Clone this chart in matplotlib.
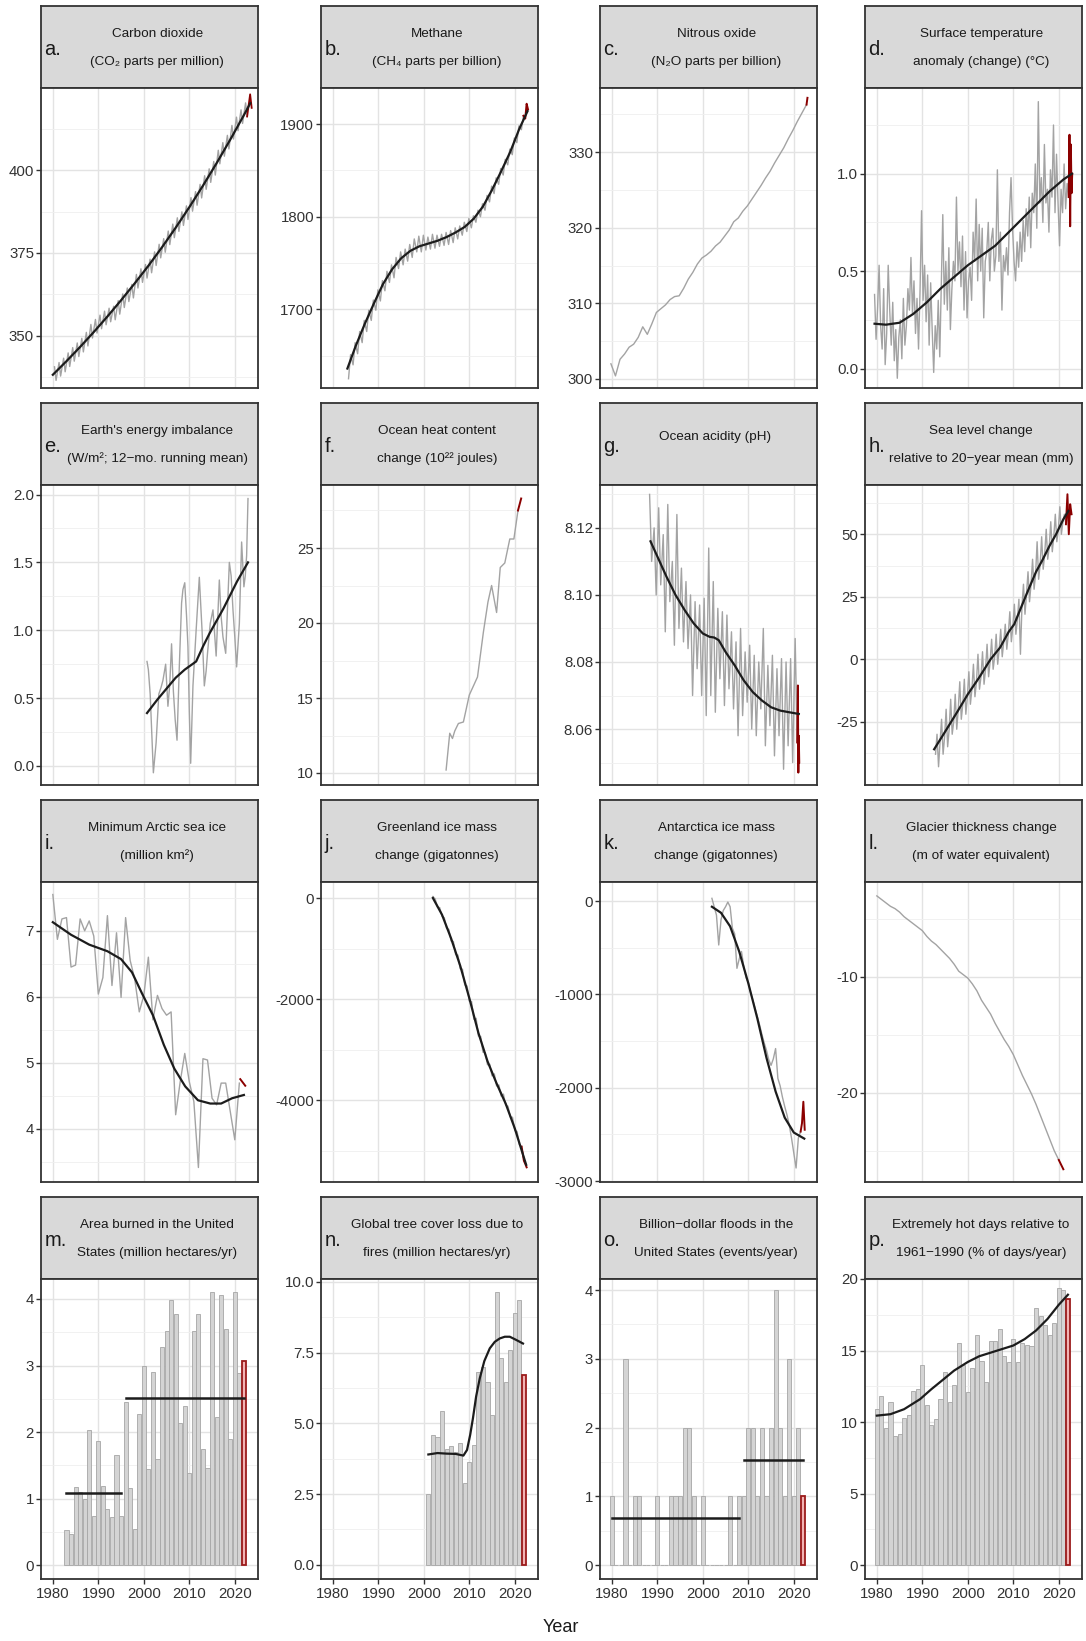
import numpy as np
import matplotlib
matplotlib.use("Agg")
import matplotlib.pyplot as plt

plt.rcParams['font.family'] = ['Liberation Sans', 'DejaVu Sans']
plt.rcParams['axes.unicode_minus'] = False

# ---------------- data ----------------
# a. CO2 (ppm): May peak / September trough per year, plus smooth fit
co2_years = list(range(1980, 2024))
co2_may = [340.6, 341.9, 343.2, 344.8, 346.4, 347.8, 349.2, 351.0, 353.4, 354.9, 356.2, 357.4, 358.3, 358.9,
           360.6, 362.6, 364.4, 365.5, 368.5, 370.2, 371.5, 373.1, 375.3, 377.6, 379.3, 381.6, 383.7, 385.6,
           387.4, 389.2, 391.7, 393.5, 395.7, 398.3, 400.4, 402.6, 406.0, 408.3, 410.5, 413.5, 416.0, 418.2,
           420.3, 422.9]
co2_sep = [336.5, 337.8, 339.1, 340.7, 342.3, 343.7, 345.1, 346.9, 349.3, 350.8, 352.1, 353.3, 354.2, 354.8,
           356.5, 358.5, 360.3, 361.4, 364.4, 366.1, 367.4, 369.0, 371.2, 373.5, 375.2, 377.5, 379.6, 381.5,
           383.3, 385.1, 387.6, 389.4, 391.6, 394.2, 396.3, 398.5, 401.9, 404.2, 406.4, 409.4, 411.9, 414.1,
           416.2, 418.8]
co2_fit_x = [1980.0, 1983, 1986, 1989, 1992, 1995, 1998, 2001, 2004, 2007, 2010, 2013, 2016, 2019, 2022, 2023.4]
co2_fit_y = [338.2, 342.3, 346.6, 351.1, 355.8, 360.7, 365.8, 371.1, 376.7, 382.6, 388.8, 395.3, 402.1, 409.2,
             416.6, 420.2]

# b. Methane (ppb)
ch4_years = list(range(1983, 2022))
ch4_lo = [1625, 1640, 1652, 1664, 1676, 1688, 1699, 1709, 1720, 1729, 1734, 1744, 1748, 1752, 1756, 1762,
          1762, 1764, 1765, 1766, 1768, 1769, 1770, 1772, 1776, 1780, 1784, 1788, 1794, 1800, 1807, 1816,
          1825, 1835, 1845, 1856, 1867, 1880, 1894]
ch4_hi = [1651, 1664, 1676, 1688, 1699, 1710, 1721, 1731, 1741, 1748, 1756, 1762, 1765, 1770, 1776, 1779,
          1780, 1778, 1781, 1780, 1781, 1783, 1785, 1788, 1790, 1794, 1798, 1801, 1807, 1814, 1823, 1833,
          1842, 1852, 1862, 1873, 1885, 1898, 1909]
ch4_red_x = [2021.9, 2022.3, 2022.6, 2022.9]
ch4_red_y = [1909, 1906, 1922, 1916]
ch4_fit_x = [1983.2, 1985, 1987, 1989, 1991, 1993, 1995, 1997, 1999, 2001, 2003, 2005, 2007, 2009, 2011,
             2013, 2015, 2017, 2019, 2021, 2022.8]
ch4_fit_y = [1636, 1660, 1684, 1706, 1727, 1743, 1755, 1763, 1768, 1771, 1774, 1778, 1783, 1789, 1798,
             1811, 1829, 1849, 1870, 1895, 1914]

# c. Nitrous oxide (ppb)
n2o_years = list(range(1979, 2023))
n2o = [302.0, 300.4, 302.6, 303.3, 304.2, 304.6, 305.5, 306.9, 305.9, 307.3, 308.8, 309.3, 309.8, 310.5,
       310.9, 311.0, 312.0, 313.2, 314.1, 315.2, 316.0, 316.4, 316.9, 317.6, 318.1, 318.9, 319.7, 320.8,
       321.3, 322.2, 322.9, 323.8, 324.7, 325.6, 326.6, 327.5, 328.6, 329.6, 330.6, 331.8, 332.9, 334.1,
       335.2, 336.3]
n2o_red_x = [2022.8, 2023.0]
n2o_red_y = [336.3, 337.2]

# d. Surface temperature anomaly (C), three readings per year from 1979.5
temp = [0.38, 0.15, 0.31, 0.53, 0.22, 0.10, 0.41, 0.02, 0.18, 0.53, 0.30, 0.12, 0.34, 0.04, 0.20,
        -0.05, 0.16, 0.25, 0.05, 0.36, 0.12, 0.22, 0.41, 0.30, 0.57, 0.28, 0.45, 0.18, 0.36, 0.10,
        0.40, 0.81, 0.35, 0.53, 0.24, 0.48, 0.12, 0.44, 0.20, -0.02, 0.22, 0.10, 0.35, 0.06, 0.42,
        0.79, 0.33, 0.55, 0.30, 0.62, 0.20, 0.41, 0.55, 0.45, 0.88, 0.50, 0.65, 0.42, 0.68, 0.30,
        0.60, 0.26, 0.45, 0.52, 0.35, 0.70, 0.55, 0.87, 0.45, 0.74, 0.50, 0.72, 0.26, 0.55, 0.60,
        0.75, 0.45, 0.66, 0.72, 0.50, 0.58, 1.02, 0.55, 0.70, 0.30, 0.58, 0.50, 0.62, 0.48, 0.80,
        0.98, 0.72, 0.55, 0.45, 0.65, 0.52, 0.70, 0.55, 0.76, 0.60, 0.82, 0.68, 0.88, 0.62, 0.90,
        0.80, 1.05, 0.72, 1.37, 0.85, 0.98, 0.75, 1.15, 0.85, 0.92, 0.70, 1.02, 0.88, 1.25, 0.80,
        1.10, 0.85, 0.63, 0.92, 0.80, 1.05, 0.82, 0.95, 0.88]
temp_red_x = [2022.17, 2022.35, 2022.5, 2022.65, 2022.8, 2022.95]
temp_red_y = [0.88, 1.20, 0.73, 1.15, 0.90, 1.00]
temp_fit_x = [1979.5, 1982, 1985, 1988, 1991, 1994, 1997, 2000, 2003, 2006, 2009, 2012, 2015, 2018, 2021, 2022.9]
temp_fit_y = [0.23, 0.225, 0.235, 0.28, 0.34, 0.41, 0.47, 0.53, 0.58, 0.63, 0.70, 0.77, 0.84, 0.91, 0.97, 1.00]

# e. Earth's energy imbalance (W/m2)
eei_x = [2000.7, 2001.0, 2001.4, 2001.8, 2002.1, 2002.7, 2003.3, 2003.8, 2004.2, 2004.8, 2005.3, 2005.7,
         2006.1, 2006.5, 2006.9, 2007.3, 2007.8, 2008.3, 2008.6, 2009.0, 2009.4, 2009.7, 2010.0, 2010.3,
         2010.8, 2011.5, 2012.2, 2012.8, 2013.3, 2013.7, 2014.0, 2014.6, 2015.2, 2015.9, 2016.6, 2017.0,
         2017.4, 2018.0, 2018.8, 2019.2, 2019.6, 2020.0, 2020.4, 2021.0, 2021.5, 2022.0, 2022.3, 2022.6, 2022.9]
eei_y = [0.77, 0.71, 0.53, 0.20, -0.05, 0.17, 0.53, 0.58, 0.63, 0.75, 0.44, 0.60, 0.90, 0.55, 0.34, 0.19,
         0.73, 1.20, 1.30, 1.35, 1.10, 0.88, 0.40, 0.02, 0.59, 1.00, 1.39, 1.00, 0.59, 0.70, 0.83, 1.05,
         1.15, 0.81, 1.37, 1.10, 0.95, 0.83, 1.50, 1.40, 1.15, 0.95, 0.73, 1.05, 1.65, 1.32, 1.40, 1.55, 1.97]
eei_fit_x = [2000.7, 2003, 2005, 2007, 2009, 2011.5, 2013, 2014.5, 2016, 2017.5, 2019, 2020.5, 2022.9]
eei_fit_y = [0.39, 0.49, 0.57, 0.65, 0.71, 0.77, 0.88, 0.98, 1.07, 1.16, 1.26, 1.36, 1.50]

# f. Ocean heat content change (10^22 J)
ohc_x = [2004.9, 2005.7, 2006.3, 2006.8, 2007.6, 2008.7, 2010.0, 2011.8, 2013.1, 2014.1, 2014.9, 2016.0,
         2016.8, 2017.8, 2018.9, 2019.8, 2020.7]
ohc_y = [10.2, 12.65, 12.3, 12.8, 13.3, 13.4, 15.2, 16.4, 19.4, 21.4, 22.5, 20.7, 23.7, 24.0, 25.6, 25.6, 27.5]
ohc_red_x = [2020.7, 2021.4]
ohc_red_y = [27.5, 28.3]

# g. Ocean acidity (pH): seasonal high / low per year
ph_years = list(range(1988, 2021))
ph_hi = [8.130, 8.120, 8.126, 8.118, 8.127, 8.110, 8.124, 8.108, 8.104, 8.100, 8.098, 8.097, 8.099, 8.114,
         8.104, 8.096, 8.095, 8.094, 8.089, 8.086, 8.090, 8.083, 8.085, 8.082, 8.080, 8.090, 8.079, 8.082,
         8.078, 8.081, 8.080, 8.081, 8.087]
ph_lo = [8.110, 8.100, 8.103, 8.089, 8.098, 8.085, 8.090, 8.086, 8.084, 8.070, 8.078, 8.070, 8.064, 8.070,
         8.065, 8.075, 8.067, 8.072, 8.066, 8.058, 8.064, 8.068, 8.060, 8.058, 8.066, 8.055, 8.061, 8.052,
         8.058, 8.048, 8.055, 8.050, 8.056]
ph_red_x = [2020.75, 2020.9, 2021.0, 2021.1, 2021.2]
ph_red_y = [8.056, 8.073, 8.047, 8.058, 8.050]
ph_fit_x = [1988.5, 1990, 1992, 1994, 1996, 1998, 2000, 2001.5, 2002.5, 2003.5, 2005, 2007, 2009, 2011,
            2013, 2015, 2017, 2019, 2021.1]
ph_fit_y = [8.116, 8.1115, 8.1055, 8.100, 8.0955, 8.0915, 8.0885, 8.0875, 8.0873, 8.0865, 8.083, 8.079,
            8.0745, 8.071, 8.0685, 8.0665, 8.0655, 8.065, 8.0645]

# h. Sea level change (mm), three readings per year from 1992.9
sea = [-38, -30, -43, -33, -24, -38, -31, -20, -35, -28, -16, -30, -25, -14, -28, -20, -9, -24,
       -18, -8, -22, -15, -5, -18, -12, -2, -15, -9, 2, -12, -7, 3, -10, -4, 6, -7,
       -1, 8, -4, 1, 10, -2, 4, 12, 1, 7, 14, 4, 10, 19, 7, 13, 22, 10,
       16, 24, 2, 21, 30, 18, 26, 35, 23, 30, 40, 28, 34, 47, 32, 38, 49, 36,
       42, 52, 40, 45, 55, 43, 49, 58, 47, 52, 61, 50, 55, 58, 54]
sea_red_x = [2021.57, 2021.9, 2022.2, 2022.5, 2022.8]
sea_red_y = [54, 66, 50, 62, 58]
sea_fit_x = [1992.6, 1995, 1997.8, 2000, 2002.5, 2005, 2007.1, 2009, 2010.2, 2012, 2013.2, 2015, 2016.3,
             2018, 2019.4, 2021, 2022.1]
sea_fit_y = [-36, -29, -20.7, -14, -7.3, 0, 4.7, 11, 14, 22, 27.3, 35, 39.3, 45.5, 50, 56, 59.3]

# i. Minimum Arctic sea ice (million km2)
ice_years = list(range(1980, 2022))
ice = [7.55, 6.87, 7.18, 7.20, 6.45, 6.48, 7.18, 7.00, 7.15, 6.92, 6.04, 6.29, 7.23, 6.17, 6.97, 5.99,
       7.20, 6.55, 6.27, 5.77, 6.02, 6.60, 5.65, 6.02, 5.82, 5.72, 5.77, 4.21, 4.71, 5.14, 4.71, 4.41,
       3.41, 5.06, 5.04, 4.46, 4.36, 4.69, 4.69, 4.26, 3.83, 4.69]
ice_red_x = [2021.2, 2022.3]
ice_red_y = [4.75, 4.65]
ice_fit_x = [1980, 1984, 1988, 1992, 1995, 1997.4, 1999.6, 2002, 2004.4, 2006.7, 2009.1, 2011.9, 2014.6,
             2017, 2019.4, 2022]
ice_fit_y = [7.13, 6.94, 6.79, 6.69, 6.57, 6.37, 6.05, 5.72, 5.27, 4.91, 4.64, 4.43, 4.38, 4.38, 4.46, 4.51]

# j. Greenland ice mass change (Gt), half-yearly from 2002
gre = [30, -20, -180, -190, -360, -390, -600, -620, -850, -860, -1120, -1130, -1400, -1410, -1720, -1740,
       -2040, -2050, -2400, -2380, -2730, -2740, -3050, -3060, -3300, -3290, -3520, -3480, -3720, -3700,
       -3920, -3880, -4100, -4120, -4330, -4340, -4600, -4620, -4880, -4920]
gre_red_x = [2021.5, 2022.0, 2022.3, 2022.6]
gre_red_y = [-4920, -5200, -5260, -5330]
gre_fit_x = [2002.0, 2004, 2006, 2008, 2010, 2012, 2014, 2016, 2018, 2020, 2022.5]
gre_fit_y = [0, -330, -800, -1340, -1980, -2670, -3230, -3670, -4070, -4560, -5280]

# k. Antarctica ice mass change (Gt), half-yearly from 2002
ant = [30, -60, -150, -470, -200, -100, -60, -10, -60, -290, -350, -720, -620, -540, -700, -820, -870,
       -980, -1060, -1150, -1240, -1330, -1430, -1520, -1600, -1700, -1760, -1690, -1580, -1900, -1980,
       -2100, -2200, -2290, -2400, -2540, -2700, -2860, -2540, -2470]
ant_red_x = [2021.5, 2021.8, 2022.1, 2022.4]
ant_red_y = [-2470, -2380, -2150, -2450]
ant_fit_x = [2002, 2004, 2006, 2008, 2010, 2012, 2014, 2016, 2018, 2020, 2022.3]
ant_fit_y = [-60, -125, -270, -540, -880, -1260, -1680, -2040, -2320, -2480, -2545]

# l. Glacier thickness change (m w.e.)
gla_years = list(range(1980, 2021))
gla = [-3.0, -3.3, -3.6, -3.9, -4.1, -4.4, -4.8, -5.1, -5.4, -5.7, -6.0, -6.5, -6.9, -7.2, -7.6, -8.0,
       -8.4, -8.9, -9.5, -9.8, -10.1, -10.6, -11.2, -12.0, -12.6, -13.2, -14.0, -14.7, -15.4, -16.0,
       -16.7, -17.6, -18.5, -19.3, -20.1, -21.0, -22.0, -23.0, -24.0, -25.0, -25.8]
gla_red_x = [2020, 2021]
gla_red_y = [-25.8, -26.6]

# m. Area burned in the US (million ha/yr)
burn_years = list(range(1983, 2022))
burn = [0.53, 0.47, 1.17, 1.10, 0.99, 2.03, 0.74, 1.87, 1.19, 0.84, 0.73, 1.65, 0.74, 2.46, 1.16, 0.54,
        2.28, 2.99, 1.45, 2.91, 1.60, 3.28, 3.52, 3.99, 3.78, 2.14, 2.40, 1.38, 3.52, 3.77, 1.75, 1.46,
        4.10, 2.23, 4.06, 3.55, 1.89, 4.10, 2.89]
burn_last = 3.07
burn_periods = [(1983, 1995), (1996, 2022)]
burn_means = [1.08, 2.51]

# n. Global tree cover loss due to fires (million ha/yr)
tree_years = list(range(2001, 2022))
tree = [2.5, 4.58, 4.5, 5.45, 4.1, 4.2, 4.0, 4.3, 2.9, 3.65, 4.25, 6.8, 7.0, 6.45, 5.3, 9.65, 7.3, 6.45,
        7.6, 8.9, 9.35]
tree_last = 6.7
tree_fit_x = [2001, 2003, 2005, 2007, 2008.7, 2009.5, 2010.2, 2010.8, 2011.5, 2012.3, 2013.3, 2014.5,
              2015.6, 2016.7, 2017.8, 2018.9, 2020.4, 2021.8]
tree_fit_y = [3.90, 3.95, 3.93, 3.92, 3.86, 4.06, 4.6, 5.18, 5.95, 6.59, 7.2, 7.65, 7.88, 8.0, 8.06, 8.06,
              7.94, 7.82]

# o. Billion-dollar floods in the US (events/yr)
flood_years = list(range(1980, 2022))
flood = [1, 0, 0, 3, 0, 1, 1, 0, 0, 0, 1, 0, 0, 1, 1, 1, 2, 2, 1, 0, 1, 0, 0, 0, 0, 0, 1, 0, 1,
         1, 2, 2, 1, 2, 1, 2, 4, 2, 1, 3, 1, 2]
flood_last = 1
flood_periods = [(1980, 2008), (2009, 2022)]
flood_means = [0.69, 1.53]

# p. Extremely hot days relative to 1961-1990 (% of days/yr)
hot_years = list(range(1980, 2022))
hot = [10.9, 11.8, 9.6, 11.4, 9.0, 9.2, 10.3, 10.5, 12.2, 12.3, 14.0, 11.2, 9.8, 10.2, 11.6, 13.5, 11.4,
       12.6, 15.5, 14.0, 12.1, 13.8, 16.1, 14.3, 12.8, 15.7, 15.7, 16.5, 14.6, 14.2, 15.8, 14.2, 15.5,
       15.4, 15.3, 18.0, 17.4, 16.8, 16.1, 16.9, 19.4, 19.2]
hot_last = 18.6
hot_fit_x = [1980, 1983, 1986, 1989.5, 1992, 1994.7, 1997, 2000, 2002.5, 2005, 2007.5, 2010, 2012.5, 2015,
             2017.5, 2020, 2022]
hot_fit_y = [10.45, 10.55, 10.9, 11.6, 12.3, 13.0, 13.6, 14.2, 14.6, 14.85, 15.1, 15.35, 15.8, 16.4,
             17.2, 18.2, 18.9]

last_year = 2022

# ---------------- layout ----------------
W, H = 1086, 1641
col_left = [41, 321, 600, 865]
row_top = [6, 403, 800, 1197]
panel_w = 217
strip_h = 82
plot_h = 300

GRAY = '#a3a3a3'
BLACK = '#1c1c1c'
RED = '#8b0000'
TXT = '#333333'

fig = plt.figure(figsize=(W / 100, H / 100), dpi=100)


def panel(r, c, letter, title, ylim, yticks, ylabels, minor):
    x0 = col_left[c]
    y0 = row_top[r]
    sax = fig.add_axes([x0 / W, 1 - (y0 + strip_h) / H, panel_w / W, strip_h / H])
    sax.set_facecolor('#d9d9d9')
    sax.set_xticks([])
    sax.set_yticks([])
    for s in sax.spines.values():
        s.set_color('#333333')
        s.set_linewidth(1.3)
    sax.text(0.015, 0.47, letter, transform=sax.transAxes, fontsize=14.5, color='#1a1a1a',
             ha='left', va='center')
    lines = title.split('\n')
    if len(lines) == 1:
        sax.text(0.53, 0.58, lines[0], transform=sax.transAxes, fontsize=9.7, color='#1a1a1a',
                 ha='center', va='center')
    else:
        sax.text(0.535, 0.66, lines[0], transform=sax.transAxes, fontsize=9.7, color='#1a1a1a',
                 ha='center', va='center')
        sax.text(0.535, 0.32, lines[1], transform=sax.transAxes, fontsize=9.7, color='#1a1a1a',
                 ha='center', va='center')

    ax = fig.add_axes([x0 / W, 1 - (y0 + strip_h + plot_h) / H, panel_w / W, plot_h / H])
    ax.set_xlim(1977.4, 2025.1)
    ax.set_ylim(*ylim)
    ax.set_xticks([1980, 1990, 2000, 2010, 2020])
    ax.set_yticks(yticks, ylabels)
    ax.set_yticks(minor, minor=True)
    ax.set_axisbelow(True)
    ax.grid(which='major', color='#e3e3e3', lw=1.0)
    ax.grid(which='minor', axis='y', color='#efefef', lw=0.6)
    for s in ax.spines.values():
        s.set_color('#333333')
        s.set_linewidth(1.3)
    ax.tick_params(axis='y', which='major', direction='out', length=3.5, width=1.0, color='#333333',
                   labelsize=10.8, labelcolor=TXT, pad=1.5)
    ax.tick_params(which='minor', length=0)
    if r == 3:
        ax.tick_params(axis='x', direction='out', length=3.5, width=1.0, color='#333333',
                       labelsize=10.8, labelcolor=TXT, pad=2)
    else:
        ax.tick_params(axis='x', bottom=False, labelbottom=False)
    return ax


def zigzag(years, first, second, off1, off2):
    xs, ys = [], []
    for yr, a, b in zip(years, first, second):
        xs += [yr + off1, yr + off2]
        ys += [a, b]
    return xs, ys


def bars(ax, years, vals, last):
    ax.bar(years, vals, width=0.9, color='#d4d4d4', edgecolor='#a6a6a6', lw=0.6, zorder=2)
    ax.bar([last_year], [last], width=0.9, color='#f2b3b3', edgecolor='#9b1b1b', lw=1.3, zorder=3)


# a
ax = panel(0, 0, 'a.', 'Carbon dioxide\n(CO\u2082 parts per million)', (334.2, 424.8),
           [350, 375, 400], ['350', '375', '400'], [337.5, 362.5, 387.5, 412.5])
gx, gy = zigzag(co2_years, co2_may, co2_sep, 0.37, 0.71)
ax.plot(gx[:-2], gy[:-2], color=GRAY, lw=1.0)
ax.plot(gx[-3:], gy[-3:], color=RED, lw=1.3)
ax.plot(co2_fit_x, co2_fit_y, color=BLACK, lw=1.6)

# b
ax = panel(0, 1, 'b.', 'Methane\n(CH\u2084 parts per billion)', (1615, 1939),
           [1700, 1800, 1900], ['1700', '1800', '1900'], [1650, 1750, 1850])
gx, gy = zigzag(ch4_years, ch4_lo, ch4_hi, 0.45, 0.9)
ax.plot(gx, gy, color=GRAY, lw=1.0)
ax.plot(ch4_red_x, ch4_red_y, color=RED, lw=1.4)
ax.plot(ch4_fit_x, ch4_fit_y, color=BLACK, lw=1.6)

# c
ax = panel(0, 2, 'c.', 'Nitrous oxide\n(N\u2082O parts per billion)', (298.8, 338.5),
           [300, 310, 320, 330], ['300', '310', '320', '330'], [305, 315, 325, 335])
ax.plot([y + 0.8 for y in n2o_years], n2o, color=GRAY, lw=1.0)
ax.plot(n2o_red_x, n2o_red_y, color=RED, lw=1.4)

# d
ax = panel(0, 3, 'd.', 'Surface temperature\nanomaly (change) (\u00b0C)', (-0.10, 1.44),
           [0.0, 0.5, 1.0], ['0.0', '0.5', '1.0'], [0.25, 0.75, 1.25])
ax.plot(1979.5 + np.arange(len(temp)) / 3, temp, color=GRAY, lw=1.0)
ax.plot(temp_red_x, temp_red_y, color=RED, lw=1.4)
ax.plot(temp_fit_x, temp_fit_y, color=BLACK, lw=1.6)

# e
ax = panel(1, 0, 'e.', "Earth's energy imbalance\n(W/m\u00b2; 12\u2212mo. running mean)", (-0.14, 2.07),
           [0.0, 0.5, 1.0, 1.5, 2.0], ['0.0', '0.5', '1.0', '1.5', '2.0'], [0.25, 0.75, 1.25, 1.75])
ax.plot(eei_x, eei_y, color=GRAY, lw=1.0)
ax.plot(eei_fit_x, eei_fit_y, color=BLACK, lw=1.6)

# f
ax = panel(1, 1, 'f.', 'Ocean heat content\nchange (10\u00b2\u00b2 joules)', (9.2, 29.2),
           [10, 15, 20, 25], ['10', '15', '20', '25'], [12.5, 17.5, 22.5, 27.5])
ax.plot(ohc_x, ohc_y, color=GRAY, lw=1.0)
ax.plot(ohc_red_x, ohc_red_y, color=RED, lw=1.4)

# g
ax = panel(1, 2, 'g.', 'Ocean acidity (pH)', (8.0433, 8.1328),
           [8.06, 8.08, 8.10, 8.12], ['8.06', '8.08', '8.10', '8.12'], [8.05, 8.07, 8.09, 8.11, 8.13])
gx, gy = zigzag(ph_years, ph_hi, ph_lo, 0.3, 0.75)
ax.plot(gx, gy, color=GRAY, lw=1.0)
ax.plot(ph_red_x, ph_red_y, color=RED, lw=1.4)
ax.plot(ph_fit_x, ph_fit_y, color=BLACK, lw=1.6)

# h
ax = panel(1, 3, 'h.', 'Sea level change\nrelative to 20\u2212year mean (mm)', (-50.3, 69.7),
           [-25, 0, 25, 50], ['-25', '0', '25', '50'], [-37.5, -12.5, 12.5, 37.5, 62.5])
ax.plot(1992.9 + np.arange(len(sea)) / 3, sea, color=GRAY, lw=1.0)
ax.plot(sea_red_x, sea_red_y, color=RED, lw=1.4)
ax.plot(sea_fit_x, sea_fit_y, color=BLACK, lw=1.6)

# i
ax = panel(2, 0, 'i.', 'Minimum Arctic sea ice\n(million km\u00b2)', (3.19, 7.74),
           [4, 5, 6, 7], ['4', '5', '6', '7'], [3.5, 4.5, 5.5, 6.5, 7.5])
ax.plot(ice_years, ice, color=GRAY, lw=1.0)
ax.plot(ice_red_x, ice_red_y, color=RED, lw=1.4)
ax.plot(ice_fit_x, ice_fit_y, color=BLACK, lw=1.6)

# j
ax = panel(2, 1, 'j.', 'Greenland ice mass\nchange (gigatonnes)', (-5620, 317),
           [-4000, -2000, 0], ['-4000', '-2000', '0'], [-5000, -3000, -1000])
ax.plot(2002.0 + 0.5 * np.arange(len(gre)), gre, color=GRAY, lw=1.0)
ax.plot(gre_red_x, gre_red_y, color=RED, lw=1.4)
ax.plot(gre_fit_x, gre_fit_y, color=BLACK, lw=1.6)

# k
ax = panel(2, 2, 'k.', 'Antarctica ice mass\nchange (gigatonnes)', (-3010, 205),
           [-3000, -2000, -1000, 0], ['-3000', '-2000', '-1000', '0'], [-2500, -1500, -500])
ax.plot(2002.0 + 0.5 * np.arange(len(ant)), ant, color=GRAY, lw=1.0)
ax.plot(ant_red_x, ant_red_y, color=RED, lw=1.4)
ax.plot(ant_fit_x, ant_fit_y, color=BLACK, lw=1.6)

# l
ax = panel(2, 3, 'l.', 'Glacier thickness change\n(m of water equivalent)', (-27.7, -1.8),
           [-20, -10], ['-20', '-10'], [-25, -15, -5])
ax.plot(gla_years, gla, color=GRAY, lw=1.0)
ax.plot(gla_red_x, gla_red_y, color=RED, lw=1.4)

# m
ax = panel(3, 0, 'm.', 'Area burned in the United\nStates (million hectares/yr)', (-0.205, 4.3),
           [0, 1, 2, 3, 4], ['0', '1', '2', '3', '4'], [0.5, 1.5, 2.5, 3.5])
bars(ax, burn_years, burn, burn_last)
for (a, b), m in zip(burn_periods, burn_means):
    ax.plot([a, b], [m, m], color=BLACK, lw=1.8, zorder=4)

# n
ax = panel(3, 1, 'n.', 'Global tree cover loss due to\nfires (million hectares/yr)', (-0.5, 10.1),
           [0, 2.5, 5, 7.5, 10], ['0.0', '2.5', '5.0', '7.5', '10.0'], [1.25, 3.75, 6.25, 8.75])
bars(ax, tree_years, tree, tree_last)
ax.plot(tree_fit_x, tree_fit_y, color=BLACK, lw=1.6, zorder=4)

# o
ax = panel(3, 2, 'o.', 'Billion\u2212dollar floods in the\nUnited States (events/year)', (-0.2, 4.16),
           [0, 1, 2, 3, 4], ['0', '1', '2', '3', '4'], [0.5, 1.5, 2.5, 3.5])
bars(ax, flood_years, flood, flood_last)
for (a, b), m in zip(flood_periods, flood_means):
    ax.plot([a, b], [m, m], color=BLACK, lw=1.8, zorder=4)

# p
ax = panel(3, 3, 'p.', 'Extremely hot days relative to\n1961\u22121990 (% of days/year)', (-0.97, 20.0),
           [0, 5, 10, 15, 20], ['0', '5', '10', '15', '20'], [2.5, 7.5, 12.5, 17.5])
bars(ax, hot_years, hot, hot_last)
ax.plot(hot_fit_x, hot_fit_y, color=BLACK, lw=1.6, zorder=4)

fig.text(561 / W, 1 - 1627 / H, 'Year', ha='center', va='center', fontsize=13, color='#1a1a1a')

fig.savefig('out.png', dpi=100)
